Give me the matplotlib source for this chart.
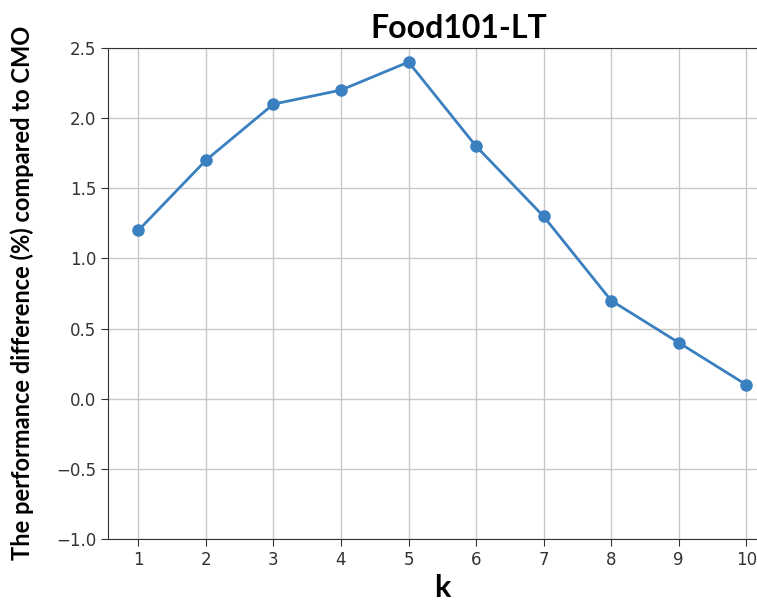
import numpy as np
import matplotlib.pyplot as plt

k_values = [1, 2, 3, 4, 5, 6, 7, 8, 9, 10]
perf_diff = [1.2, 1.7, 2.1, 2.2, 2.4, 1.8, 1.3, 0.7, 0.4, 0.1]
y_ticks = [-1.0, -0.5, 0.0, 0.5, 1.0, 1.5, 2.0, 2.5]

fig = plt.figure(figsize=(7.57, 6.07), dpi=100)
W, H = 757, 607
left, right, top, bottom = 108, 757, 48, 539
ax = fig.add_axes([left / W, 1 - bottom / H, (right - left) / W, (bottom - top) / H])

ax.plot(k_values, perf_diff, color='#3a80c0', marker='o', markersize=8, linewidth=2)

ax.set_xlim(0.55, 10.16)
ax.set_ylim(-1.0, 2.5)
ax.set_xticks(k_values)
ax.set_yticks(y_ticks)
ax.grid(True, color='#c8c8c8', linewidth=1)
ax.spines['right'].set_visible(False)
for s in ['left', 'bottom', 'top']:
    ax.spines[s].set_color('#333333')
ax.tick_params(labelsize=12, colors='#333333', labelcolor='#333333', length=5)

fig.text(459 / W, 1 - 28 / H, 'Food101-LT', ha='center', va='center',
         fontsize=23, fontweight='bold', family='Lato')
fig.text(22 / W, 1 - 293 / H, 'The performance difference (%) compared to CMO',
         rotation=90, ha='center', va='center', fontsize=17, fontweight='bold', family='Lato')
fig.text(442 / W, 1 - 588 / H, 'k', ha='center', va='center',
         fontsize=22, fontweight='bold', family='Lato')

fig.savefig('out.png', dpi=100)
